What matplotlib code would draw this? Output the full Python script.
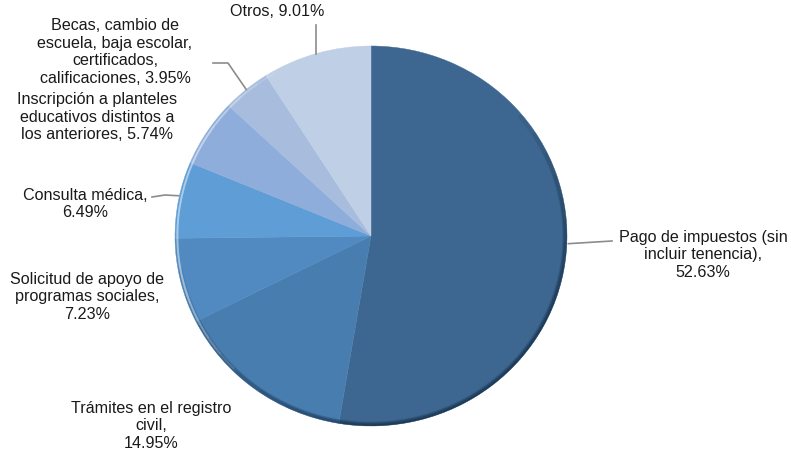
import numpy as np
import matplotlib
matplotlib.use("Agg")
import matplotlib.pyplot as plt
from matplotlib.patches import Wedge

# Data
labels = ["Pago de impuestos (sin\nincluir tenencia),\n52.63%",
          "Trámites en el registro\ncivil,\n14.95%",
          "Solicitud de apoyo de\nprogramas sociales,\n7.23%",
          "Consulta médica,\n6.49%",
          "Inscripción a planteles\neducativos distintos a\nlos anteriores, 5.74%",
          "Becas, cambio de\nescuela, baja escolar,\ncertificados,\ncalificaciones, 3.95%",
          "Otros, 9.01%"]
values = [52.63, 14.95, 7.23, 6.49, 5.74, 3.95, 9.01]
colors = ["#3D6790", "#487DAF", "#508AC1", "#5E9DD6", "#8EADDA", "#A8BDDD", "#BFCFE5"]

W, H = 791, 453
plt.rcParams['font.family'] = ['Liberation Sans', 'DejaVu Sans']
fig = plt.figure(figsize=(W/100, H/100), dpi=100)

cx, cy, rx, ry = 371, 236, 196, 190
ax = fig.add_axes([(cx-rx)/W, 1-(cy+ry)/H, 2*rx/W, 2*ry/H])
wedges, _ = ax.pie(values, colors=colors, startangle=90, counterclock=False,
                   radius=1, wedgeprops=dict(linewidth=0.3))
for w, c in zip(wedges, colors):
    w.set_edgecolor(c)
ax.set_xlim(-1, 1); ax.set_ylim(-1, 1)
ax.set_aspect('auto')
ax.axis('off')

# bevel shading: soft dark rim on lower side, light rim on upper left
for i in range(10):
    ax.add_patch(Wedge((0, 0), 1.0, -170 + i*9, 40 - i*7, width=0.024 - 0.0018*i,
                       facecolor="#0b1e33", alpha=0.08, linewidth=0))
for i in range(5):
    ax.add_patch(Wedge((0, 0), 0.993, 120 + i*6, 225 - i*6, width=0.010,
                       facecolor="white", alpha=0.12, linewidth=0))

ov = fig.add_axes([0, 0, 1, 1], zorder=5)
ov.set_xlim(0, W); ov.set_ylim(H, 0)
ov.axis('off')

def edge(i):
    cum = np.cumsum([0] + values)
    mid = 90 - (cum[i] + values[i]/2) * 3.6
    t = np.deg2rad(mid)
    return cx + rx*np.cos(t), cy - ry*np.sin(t)

lab_pos = [(703, 255), (151, 426), (87, 297), (85, 204), (97, 117), (115, 52), (277, 12)]
for lab, (x, y) in zip(labels, lab_pos):
    ov.text(x, y, lab, ha='center', va='center', fontsize=11.6, color='#1a1a1a',
            linespacing=1.22)

lc = '#8c8c8c'
x0, y0 = edge(0); ov.plot([x0+2, 612], [y0-8, 241], color=lc, lw=1.2)
x0, y0 = edge(6); ov.plot([x0, x0], [y0, 25], color=lc, lw=1.2)
x0, y0 = edge(5); ov.plot([x0, 228, 213], [y0, 63, 63], color=lc, lw=1.2)
x0, y0 = edge(3); ov.plot([x0, 165, 152], [y0-4, 195, 197], color=lc, lw=1.2)

fig.savefig("out.png", dpi=100, facecolor='white')
